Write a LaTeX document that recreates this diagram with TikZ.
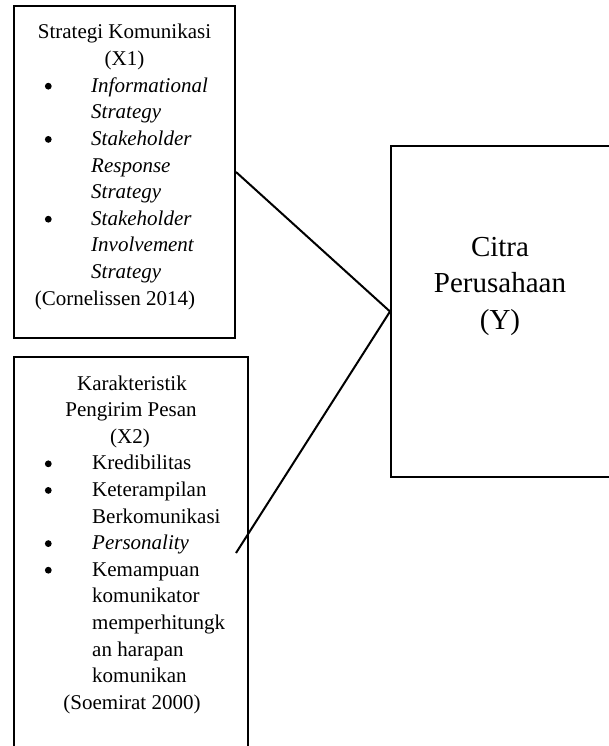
\documentclass[tikz,border=0pt]{standalone}
\usepackage{fontspec}
\setmainfont{Liberation Serif}
\begin{document}
\begin{tikzpicture}[x=1pt,y=-1pt,
  box/.style={draw=black, line width=2pt, inner sep=0pt, rectangle},
  conn/.style={draw=black, line width=2pt},
  hdr/.style={anchor=base, inner sep=0pt, font=\fontsize{21}{25}\selectfont},
  itm/.style={anchor=base west, inner sep=0pt, font=\fontsize{21}{25}\selectfont},
  bul/.style={circle, fill=black, inner sep=0pt, minimum size=6.8pt, yshift=6pt},
  big/.style={anchor=base, inner sep=0pt, font=\fontsize{29}{35}\selectfont}]
\useasboundingbox (0,0) rectangle (609,746);
% boxes
\node[box, minimum width=221pt, minimum height=332pt] (b1) at (124.5,172) {};
\node[box, minimum width=234pt, minimum height=403pt] (b2) at (131,558.5) {};
\node[box, minimum width=220pt, minimum height=331pt] (bY) at (501,311.5) {};
% connectors
\coordinate (e2) at (236,553);
\draw[conn] (b1.east) -- (bY.west);
\draw[conn] (e2) -- (bY.west);
% box 1 text
\node[hdr] (a0) at (124.5,39) {Strategi Komunikasi};
\node[hdr] (a1) at (124.5,65.6) {(X1)};
\node[bul] (ab1) at (48.3,92.2) {};
\node[itm] (a2) at (91,92.2) {\itshape Informational};
\node[itm] (a3) at (91,118.8) {\itshape Strategy};
\node[bul] (ab2) at (48.3,145.4) {};
\node[itm] (a4) at (91,145.4) {\itshape Stakeholder};
\node[itm] (a5) at (91,172) {\itshape Response};
\node[itm] (a6) at (91,198.6) {\itshape Strategy};
\node[bul] (ab3) at (48.3,225.2) {};
\node[itm] (a7) at (91,225.2) {\itshape Stakeholder};
\node[itm] (a8) at (91,251.8) {\itshape Involvement};
\node[itm] (a9) at (91,278.4) {\itshape Strategy};
\node[hdr] (a10) at (115,305) {(Cornelissen 2014)};
% box 2 text
\node[hdr] (c0) at (132,390) {Karakteristik};
\node[hdr] (c1) at (131,416.6) {Pengirim Pesan};
\node[hdr] (c2) at (130,443.2) {(X2)};
\node[bul] (cb1) at (48.3,469.8) {};
\node[itm] (c3) at (92,469.8) {Kredibilitas};
\node[bul] (cb2) at (48.3,496.4) {};
\node[itm] (c4) at (92,496.4) {Keterampilan};
\node[itm] (c5) at (92,523) {Berkomunikasi};
\node[bul] (cb3) at (48.3,549.6) {};
\node[itm] (c6) at (92,549.6) {\itshape Personality};
\node[bul] (cb4) at (48.3,576.2) {};
\node[itm] (c7) at (92,576.2) {Kemampuan};
\node[itm] (c8) at (92,602.8) {komunikator};
\node[itm] (c9) at (92,629.4) {memperhitungk};
\node[itm] (c10) at (92,656) {an harapan};
\node[itm] (c11) at (92,682.6) {komunikan};
\node[hdr] (c12) at (132,709.2) {(Soemirat 2000)};
% Y text
\node[big] (y0) at (500,256) {Citra};
\node[big] (y1) at (500,292.5) {Perusahaan};
\node[big] (y2) at (500,329) {(Y)};
\end{tikzpicture}
\end{document}
